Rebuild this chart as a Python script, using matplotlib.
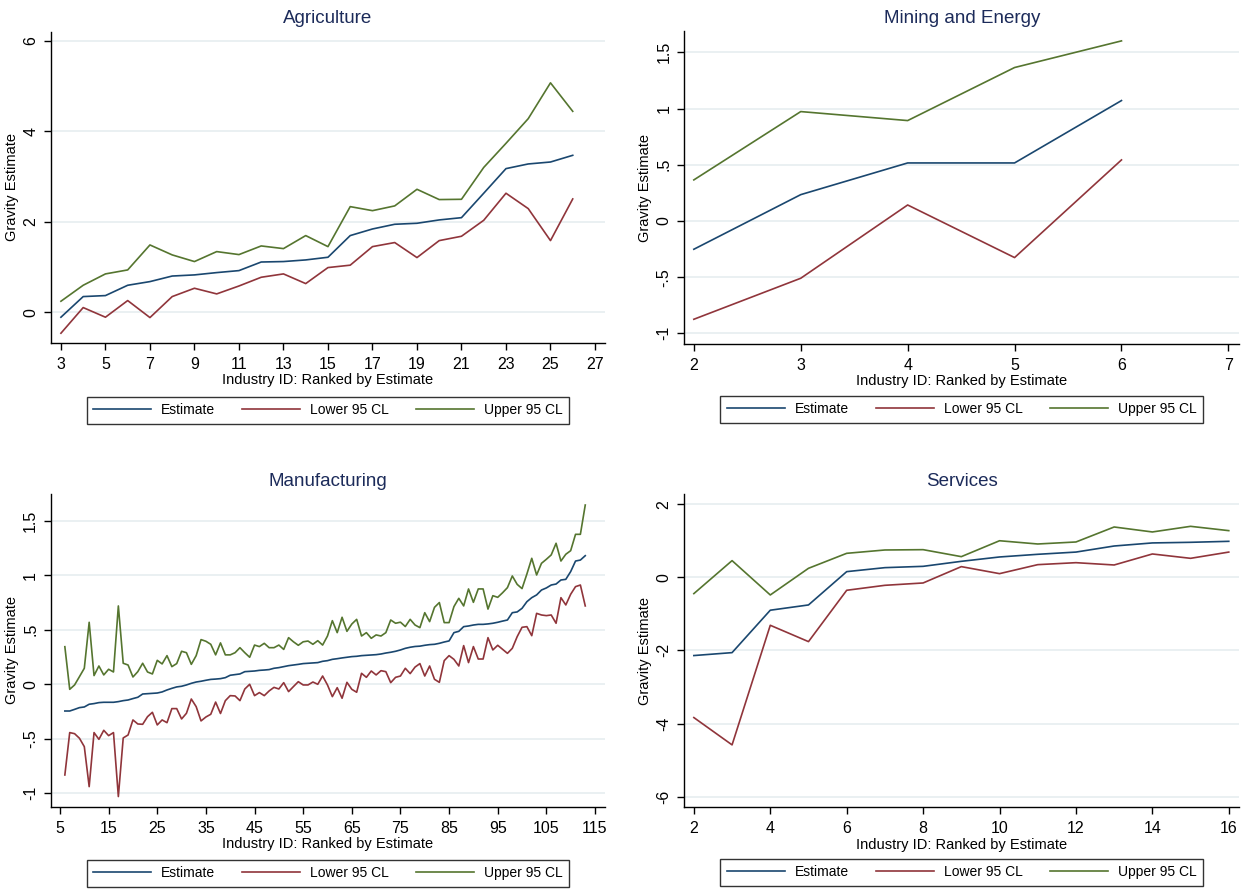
import matplotlib
matplotlib.use("Agg")
import matplotlib.pyplot as plt
from matplotlib import font_manager

# ---------------------------------------------------------------- data
agri_id = list(range(3, 27))
agri_est = [-0.11, 0.346, 0.368, 0.596, 0.677, 0.80, 0.825, 0.876, 0.92, 1.11,
            1.12, 1.156, 1.215, 1.694, 1.84, 1.944, 1.966, 2.04, 2.09, 2.63,
            3.174, 3.277, 3.32, 3.468]
agri_lo = [-0.464, 0.103, -0.11, 0.258, -0.118, 0.346, 0.53, 0.405, 0.58, 0.773,
           0.847, 0.633, 0.987, 1.04, 1.45, 1.54, 1.208, 1.583, 1.679, 2.032,
           2.63, 2.29, 1.583, 2.504]
agri_hi = [0.243, 0.596, 0.847, 0.935, 1.487, 1.267, 1.12, 1.34, 1.274, 1.465,
           1.406, 1.694, 1.45, 2.334, 2.245, 2.35, 2.717, 2.49, 2.496, 3.2,
           3.733, 4.278, 5.07, 4.44]

mine_id = [2, 3, 4, 5, 6]
mine_est = [-0.252, 0.234, 0.516, 0.516, 1.071]
mine_lo = [-0.875, -0.51, 0.142, -0.326, 0.543]
mine_hi = [0.365, 0.973, 0.893, 1.365, 1.602]

manu_id = list(range(6, 114))
manu_est = [-0.245, -0.245, -0.23, -0.214, -0.208, -0.183, -0.177, -0.168, -0.165, -0.165,
            -0.165, -0.159, -0.15, -0.144, -0.131, -0.119, -0.089, -0.086, -0.083, -0.08,
            -0.07, -0.052, -0.037, -0.024, -0.018, -0.006, 0.009, 0.021, 0.028, 0.037,
            0.045, 0.048, 0.052, 0.061, 0.083, 0.089, 0.095, 0.116, 0.119, 0.122,
            0.128, 0.131, 0.135, 0.147, 0.153, 0.162, 0.171, 0.177, 0.183, 0.19,
            0.193, 0.196, 0.199, 0.211, 0.217, 0.229, 0.235, 0.242, 0.248, 0.254,
            0.257, 0.263, 0.266, 0.269, 0.272, 0.278, 0.287, 0.294, 0.303, 0.315,
            0.33, 0.34, 0.347, 0.35, 0.358, 0.364, 0.367, 0.376, 0.388, 0.398,
            0.474, 0.486, 0.529, 0.535, 0.544, 0.55, 0.55, 0.554, 0.56, 0.569,
            0.58, 0.59, 0.657, 0.664, 0.697, 0.758, 0.795, 0.82, 0.865, 0.884,
            0.911, 0.92, 0.957, 0.963, 1.034, 1.131, 1.14, 1.18]
manu_lo = [-0.832, -0.443, -0.453, -0.495, -0.572, -0.939, -0.443, -0.505, -0.422, -0.471,
           -0.443, -1.03, -0.492, -0.465, -0.327, -0.364, -0.367, -0.297, -0.257, -0.373,
           -0.327, -0.352, -0.223, -0.223, -0.318, -0.266, -0.135, -0.205, -0.336, -0.30,
           -0.275, -0.163, -0.268, -0.15, -0.104, -0.107, -0.15, -0.043, 0.0, -0.104,
           -0.076, -0.104, -0.061, -0.028, -0.043, 0.015, -0.067, -0.021, 0.024, -0.006,
           -0.006, 0.021, 0.0, 0.076, -0.006, -0.113, -0.031, -0.128, 0.018, -0.046,
           -0.073, 0.101, 0.064, 0.122, 0.086, 0.125, 0.116, 0.015, 0.064, 0.076,
           0.147, 0.098, 0.158, 0.19, 0.076, 0.168, 0.046, 0.018, 0.217, 0.263,
           0.229, 0.168, 0.355, 0.199, 0.346, 0.232, 0.232, 0.428, 0.315, 0.358,
           0.321, 0.284, 0.33, 0.437, 0.523, 0.529, 0.446, 0.651, 0.636, 0.63,
           0.636, 0.56, 0.795, 0.728, 0.826, 0.896, 0.911, 0.719]
manu_hi = [0.345, -0.046, -0.006, 0.07, 0.147, 0.569, 0.08, 0.168, 0.086, 0.138,
           0.113, 0.719, 0.193, 0.177, 0.067, 0.116, 0.193, 0.113, 0.095, 0.22,
           0.187, 0.263, 0.162, 0.19, 0.303, 0.29, 0.183, 0.263, 0.41, 0.395,
           0.367, 0.27, 0.38, 0.27, 0.27, 0.29, 0.336, 0.29, 0.248, 0.36,
           0.346, 0.376, 0.336, 0.336, 0.36, 0.32, 0.428, 0.39, 0.358, 0.39,
           0.397, 0.367, 0.40, 0.36, 0.443, 0.584, 0.474, 0.615, 0.486, 0.553,
           0.596, 0.443, 0.474, 0.422, 0.453, 0.443, 0.474, 0.59, 0.56, 0.57,
           0.53, 0.596, 0.544, 0.52, 0.657, 0.575, 0.706, 0.75, 0.566, 0.566,
           0.713, 0.789, 0.719, 0.875, 0.752, 0.875, 0.875, 0.69, 0.813, 0.798,
           0.84, 0.887, 0.994, 0.917, 0.878, 1.012, 1.156, 1.003, 1.11, 1.147,
           1.187, 1.294, 1.131, 1.193, 1.226, 1.376, 1.376, 1.645]

serv_id = list(range(2, 17))
serv_est = [-2.14, -2.06, -0.90, -0.756, 0.155, 0.264, 0.30, 0.437, 0.556, 0.629,
            0.69, 0.856, 0.94, 0.957, 0.984]
serv_lo = [-3.836, -4.583, -1.312, -1.759, -0.355, -0.219, -0.155, 0.292, 0.10, 0.346,
           0.40, 0.337, 0.638, 0.519, 0.69]
serv_hi = [-0.446, 0.456, -0.483, 0.246, 0.656, 0.747, 0.756, 0.565, 1.0, 0.911,
           0.966, 1.376, 1.24, 1.394, 1.276]

series_names = ["Estimate", "Lower 95 CL", "Upper 95 CL"]
x_title = "Industry ID: Ranked by Estimate"
y_title = "Gravity Estimate"

agri_xticks = list(range(3, 28, 2))
agri_yticks = [0, 2, 4, 6]
mine_xticks = [2, 3, 4, 5, 6, 7]
mine_yticks = [-1, -0.5, 0, 0.5, 1, 1.5]
manu_xticks = list(range(5, 116, 10))
manu_yticks = [-1, -0.5, 0, 0.5, 1, 1.5]
serv_xticks = list(range(2, 17, 2))
serv_yticks = [-6, -4, -2, 0, 2]

# ---------------------------------------------------------------- style
def pick_font():
    for name in ["Liberation Sans", "Arimo", "DejaVu Sans"]:
        try:
            font_manager.findfont(font_manager.FontProperties(family=name),
                                  fallback_to_default=False)
            return name
        except Exception:
            continue
    return "DejaVu Sans"

FONT = pick_font()
plt.rcParams["font.family"] = [FONT, "DejaVu Sans"]

C_EST = "#1a476f"
C_LO = "#90353b"
C_HI = "#55752f"
C_TITLE = "#1c2b5a"
C_GRID = "#e4ecef"

FS_TITLE = 13.5
FS_TICK = 11.5
FS_LABEL = 10.5
FS_LEGEND = 10

W, H = 1247, 894
fig = plt.figure(figsize=(W / 100, H / 100), dpi=100)
fig.patch.set_facecolor("white")


def rect(left, right, top, bottom):
    return [left / W, 1 - bottom / H, (right - left) / W, (bottom - top) / H]


def stata_label(v):
    if abs(v - round(v)) < 1e-9:
        return str(int(round(v)))
    s = ("%g" % v)
    if s.startswith("0."):
        s = s[1:]
    elif s.startswith("-0."):
        s = "-" + s[2:]
    return s


def panel(box, title, ids, est, lo, hi, xlim, ylim, xticks, yticks, legend_top):
    ax = fig.add_axes(rect(*box))
    ax.set_xlim(*xlim)
    ax.set_ylim(*ylim)
    for yv in yticks:
        ax.axhline(yv, color=C_GRID, lw=1.1, zorder=0)
    ax.plot(ids, est, color=C_EST, lw=1.2, label=series_names[0], zorder=3)
    ax.plot(ids, lo, color=C_LO, lw=1.2, label=series_names[1], zorder=3)
    ax.plot(ids, hi, color=C_HI, lw=1.2, label=series_names[2], zorder=3)

    for side in ("top", "right"):
        ax.spines[side].set_visible(False)
    for side in ("left", "bottom"):
        ax.spines[side].set_linewidth(1.0)
        ax.spines[side].set_color("black")

    ax.set_xticks(xticks)
    ax.set_xticklabels([stata_label(v) for v in xticks], fontsize=FS_TICK)
    ax.set_yticks(yticks)
    ax.set_yticklabels([stata_label(v) for v in yticks], fontsize=FS_TICK,
                       rotation=90, va="center")
    ax.tick_params(axis="both", direction="out", length=5, width=1.0,
                   color="black", labelcolor="black")
    ax.tick_params(axis="x", pad=5)
    ax.tick_params(axis="y", pad=4)

    ax.set_title(title, fontsize=FS_TITLE, color=C_TITLE, pad=6)
    ax.set_xlabel(x_title, fontsize=FS_LABEL, labelpad=1)
    ax.set_ylabel(y_title, fontsize=FS_LABEL, labelpad=3)

    cx = (box[0] + box[1]) / 2
    leg = ax.legend(loc="upper center", ncol=3,
                    bbox_to_anchor=(cx / W, 1 - legend_top / H),
                    bbox_transform=fig.transFigure,
                    fontsize=FS_LEGEND, frameon=True, fancybox=False,
                    edgecolor="black", handlelength=4.2, handletextpad=0.7,
                    columnspacing=1.95, borderpad=0.45, borderaxespad=0)
    leg.get_frame().set_linewidth(1.0)
    return ax


panel((50.7, 605, 31.7, 343), "Agriculture", agri_id, agri_est, agri_lo, agri_hi,
      (2.54, 27.45), (-0.68, 6.2), agri_xticks, agri_yticks, 397)
panel((684, 1239.4, 31, 344), "Mining and Energy", mine_id, mine_est, mine_lo, mine_hi,
      (1.908, 7.103), (-1.095, 1.69), mine_xticks, mine_yticks, 396)
panel((50.7, 605, 494, 806.7), "Manufacturing", manu_id, manu_est, manu_lo, manu_hi,
      (3.09, 117.06), (-1.123, 1.746), manu_xticks, manu_yticks, 860)
panel((684, 1239.4, 494.3, 807.3), "Services", serv_id, serv_est, serv_lo, serv_hi,
      (1.742, 16.278), (-6.29, 2.27), serv_xticks, serv_yticks, 859)

fig.savefig("out.png", dpi=100, facecolor="white")
